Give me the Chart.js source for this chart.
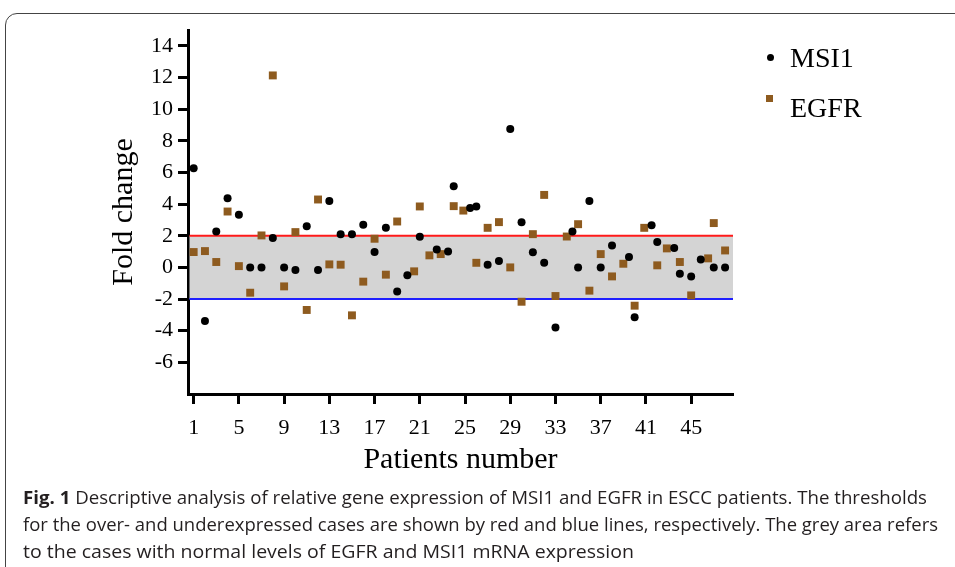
<!DOCTYPE html>
<html>
<head>
<meta charset="utf-8">
<script src="https://cdn.jsdelivr.net/npm/chart.js@4.4.1/dist/chart.umd.min.js"></script>
<style>
  html, body { margin: 0; padding: 0; background: #fff; }
  body { width: 955px; height: 567px; overflow: hidden; position: relative; }
  #card { position: absolute; left: 5px; top: 13px; width: 1000px; height: 600px;
          border: 1.5px solid #444; border-radius: 12px; box-sizing: border-box; }
  #chart { position: absolute; left: 0; top: 0; }
  .leg { position: absolute; font-family: "Liberation Serif", "Times New Roman", serif;
         font-size: 28px; line-height: 28px; color: #000; white-space: nowrap; }
  .cap { position: absolute; left: 23px; font-family: "Open Sans", "Noto Sans", sans-serif;
         font-size: 17.5px; line-height: 17.5px; color: #231f20; white-space: nowrap;
         transform-origin: 0 0; }
  .cap b { font-weight: 700; }
</style>
</head>
<body>
<div id="card"></div>
<canvas id="chart" width="955" height="567"></canvas>

<div style="position:absolute;left:766.5px;top:54.2px;width:7px;height:7px;border-radius:50%;background:#000;"></div>
<div class="leg" style="left:790px;top:43.5px;">MSI1</div>
<div style="position:absolute;left:766px;top:95px;width:6.5px;height:6.5px;background:#8e5b1f;"></div>
<div class="leg" style="left:790px;top:93.5px;">EGFR</div>

<div class="cap" id="cap1" data-w="904" style="top:488.5px;"><b>Fig. 1</b> Descriptive analysis of relative gene expression of MSI1 and EGFR in ESCC patients. The thresholds</div>
<div class="cap" id="cap2" data-w="915" style="top:515.5px;">for the over- and underexpressed cases are shown by red and blue lines, respectively. The grey area refers</div>
<div class="cap" id="cap3" data-w="611" style="top:542.5px;">to the cases with normal levels of EGFR and MSI1 mRNA expression</div>

<script>
// ---- data ----
const seriesNames = ["MSI1", "EGFR"];
const msiX = [1,2,3,4,5,6,7,8,9,10,11,12,13,14,15,16,17,18,19,19.9,21,22.5,23.5,24,25.45,26,27,28,29,30,31,32,33,34.5,35,36,37,38,39.5,40,41.5,42,43.5,44,45,45.85,47,48];
const msiY = [6.26,-3.38,2.27,4.37,3.32,0,0,1.85,0,-0.17,2.6,-0.17,4.2,2.1,2.1,2.69,0.97,2.5,-1.53,-0.5,1.93,1.13,1.01,5.13,3.76,3.85,0.17,0.4,8.74,2.86,0.95,0.29,-3.8,2.27,0,4.2,0,1.39,0.65,-3.15,2.67,1.6,1.22,-0.4,-0.57,0.5,0,0];
const egfrX = [1,2,3,4,5,6,7,8,9,10,11,12,13,14,15,16,17,18,19,20.5,21,21.85,22.85,24,24.85,26,27,28,29,30,31,32,33,34,35,36,37,38,39,40,40.85,42,42.85,44,45,46.5,47,48];
const egfrY = [0.97,1.03,0.34,3.53,0.08,-1.6,2.02,12.13,-1.2,2.23,-2.69,4.29,0.19,0.17,-3.03,-0.9,1.81,-0.46,2.9,-0.25,3.85,0.76,0.84,3.87,3.59,0.29,2.5,2.86,0,-2.17,2.1,4.58,-1.81,1.95,2.73,-1.47,0.84,-0.57,0.23,-2.42,2.5,0.13,1.2,0.34,-1.77,0.57,2.8,1.07];
const xTickValues = [1,5,9,13,17,21,25,29,33,37,41,45];
const yTickValues = [-6,-4,-2,0,2,4,6,8,10,12,14];
const overThreshold = 2;
const underThreshold = -2;

const serif = "'Liberation Serif', 'Times New Roman', serif";

const bandPlugin = {
  id: 'band',
  beforeDatasetsDraw(chart) {
    const { ctx, chartArea, scales } = chart;
    const y = scales.y;
    const yTop = y.getPixelForValue(overThreshold);
    const yBot = y.getPixelForValue(underThreshold);
    const l = chartArea.left + 1.5, r = chartArea.right;
    ctx.save();
    ctx.fillStyle = '#d4d4d4';
    ctx.fillRect(l, yTop, r - l, yBot - yTop);
    ctx.lineWidth = 2;
    ctx.strokeStyle = '#ff1a1a';
    ctx.beginPath(); ctx.moveTo(l, yTop); ctx.lineTo(r, yTop); ctx.stroke();
    ctx.strokeStyle = '#1f1fff';
    ctx.beginPath(); ctx.moveTo(l, yBot); ctx.lineTo(r, yBot); ctx.stroke();
    ctx.restore();
  }
};

new Chart(document.getElementById('chart'), {
  type: 'scatter',
  data: {
    datasets: [
      { label: seriesNames[0], data: msiX.map((x, i) => ({ x, y: msiY[i] })),
        pointStyle: 'circle', pointRadius: 4, pointHoverRadius: 4,
        backgroundColor: '#000', borderColor: '#000', borderWidth: 0 },
      { label: seriesNames[1], data: egfrX.map((x, i) => ({ x, y: egfrY[i] })),
        pointStyle: 'rect', pointRadius: 5.6, pointHoverRadius: 5.6,
        backgroundColor: '#8e5b1f', borderColor: '#8e5b1f', borderWidth: 0 }
    ]
  },
  options: {
    responsive: false,
    animation: false,
    devicePixelRatio: 1,
    layout: { padding: { left: 106, top: 30, right: 222, bottom: 89 } },
    plugins: { legend: { display: false }, tooltip: { enabled: false } },
    scales: {
      x: {
        type: 'linear', min: 0.5, max: 48.7,
        afterBuildTicks: s => { s.ticks = xTickValues.map(v => ({ value: v })); },
        afterFit: s => { s.height = 84; },
        grid: { display: true, drawOnChartArea: false, drawTicks: true, tickLength: 10, tickWidth: 3, tickColor: '#000' },
        border: { display: true, color: '#000', width: 3 },
        ticks: { color: '#000', padding: 11, font: { family: serif, size: 22 }, maxRotation: 0, autoSkip: false },
        title: { display: true, text: 'Patients number', color: '#000', padding: { top: 0, bottom: 0 },
                 font: { family: serif, size: 30 } }
      },
      y: {
        type: 'linear', min: -8, max: 15,
        afterBuildTicks: s => { s.ticks = yTickValues.map(v => ({ value: v })); },
        afterFit: s => { s.width = 82; },
        grid: { display: true, drawOnChartArea: false, drawTicks: true, tickLength: 10, tickWidth: 3, tickColor: '#000' },
        border: { display: true, color: '#000', width: 3 },
        ticks: { color: '#000', padding: 5, font: { family: serif, size: 22 }, autoSkip: false },
        title: { display: true, text: 'Fold change', color: '#000', padding: { top: 0, bottom: 0 },
                 font: { family: serif, size: 30 } }
      }
    }
  },
  plugins: [bandPlugin]
});

// fit caption lines to the reference widths
document.querySelectorAll('.cap').forEach(el => {
  const w = el.getBoundingClientRect().width;
  const target = parseFloat(el.dataset.w);
  el.style.transform = 'scaleX(' + (target / w) + ')';
});
</script>
</body>
</html>
